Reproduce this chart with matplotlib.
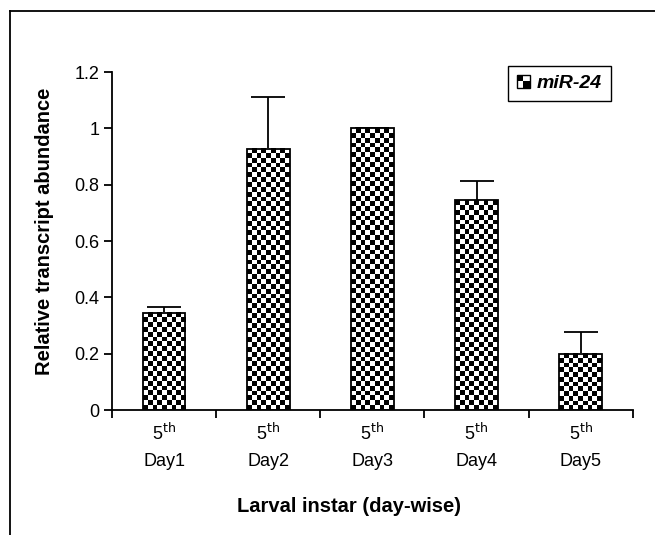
import numpy as np
import matplotlib
matplotlib.use('Agg')
from matplotlib import pyplot as plt
from matplotlib.patches import Rectangle
from matplotlib.lines import Line2D
from matplotlib.legend_handler import HandlerBase

plt.rcParams['font.family'] = ['Liberation Sans', 'DejaVu Sans']

days = ['Day1', 'Day2', 'Day3', 'Day4', 'Day5']
values = [0.345, 0.928, 1.0, 0.745, 0.199]
errors = [0.021, 0.185, 0.0, 0.068, 0.078]
yticks = [0, 0.2, 0.4, 0.6, 0.8, 1.0, 1.2]
ytick_labels = ['0', '0.2', '0.4', '0.6', '0.8', '1', '1.2']
series_name = 'miR-24'


class CheckerHandler(HandlerBase):
    # small 2x2 checker square for the legend
    def create_artists(self, legend, orig_handle, xdescent, ydescent,
                       width, height, fontsize, trans):
        s = height * 1.0
        x0 = -xdescent
        y0 = -ydescent
        h = s / 2
        return [
            Rectangle((x0, y0), s, s, fc='white', ec='black', lw=1, transform=trans),
            Rectangle((x0, y0 + h), h, h, fc='black', ec='none', transform=trans),
            Rectangle((x0 + h, y0), h, h, fc='black', ec='none', transform=trans),
        ]


fig = plt.figure(figsize=(6.55, 5.35), dpi=100)
ax = fig.add_axes([0.171, 0.2336, 0.795, 0.6318])

x = np.arange(len(days))
bar_w = 0.41
bars = ax.bar(x, values, width=bar_w, fill=False, edgecolor='black',
              linewidth=1.3, zorder=2)

# checkerboard fill for every bar
for rect in bars:
    x0 = rect.get_x()
    h = rect.get_height()
    ncols = 9
    nrows = max(1, int(round(h * 58)))
    board = (np.add.outer(np.arange(nrows), np.arange(ncols)) % 2)
    ax.imshow(board, cmap='gray', interpolation='nearest', origin='lower',
              extent=(x0, x0 + rect.get_width(), 0, h), aspect='auto',
              vmin=0, vmax=1, zorder=1)

# error bars sit behind the bars, so only the upper half shows
ax.errorbar(x, values, yerr=errors, fmt='none', ecolor='black',
            elinewidth=1.3, capsize=12, capthick=1.3, zorder=0.5)

ax.set_xlim(-0.5, len(days) - 0.5)
ax.set_ylim(0, 1.2)

for side in ['top', 'right']:
    ax.spines[side].set_visible(False)
ax.spines['left'].set_linewidth(1.3)
ax.spines['bottom'].set_linewidth(1.3)

ax.set_yticks(yticks)
ax.set_yticklabels(ytick_labels, fontsize=13)
ax.tick_params(axis='y', direction='out', length=6, width=1.3, pad=3)

ax.set_xticks(x)
ax.set_xticklabels(['5$^{\\mathrm{th}}$\n' + d for d in days], fontsize=13,
                   linespacing=1.7)
ax.tick_params(axis='x', which='major', length=0, pad=9)
ax.set_xticks(np.arange(len(days) + 1) - 0.5, minor=True)
ax.tick_params(axis='x', which='minor', direction='out', length=6, width=1.3)

ax.set_ylabel('Relative transcript abundance', fontsize=14.5,
              fontweight='bold', va='center')
ax.yaxis.set_label_coords(-0.129, 0.53)
ax.set_xlabel('Larval instar (day-wise)', fontsize=14.5, fontweight='bold',
              va='center')
ax.xaxis.set_label_coords(0.455, -0.284)

leg = ax.legend([Rectangle((0, 0), 1, 1)], [series_name],
                handler_map={Rectangle: CheckerHandler()},
                loc='upper right', bbox_to_anchor=(0.958, 1.018),
                borderaxespad=0, fancybox=False, edgecolor='black',
                handlelength=0.75, handletextpad=0.3, borderpad=0.45,
                prop={'size': 14, 'weight': 'bold', 'style': 'italic'})
leg.get_frame().set_linewidth(1.0)
leg.get_frame().set_alpha(1)

# outer frame lines (left and top)
fx = 9.5 / 655
fy = 1 - 11 / 535
fig.add_artist(Line2D([fx, fx], [0, fy], color='black', lw=1.3,
                      transform=fig.transFigure))
fig.add_artist(Line2D([fx, 1], [fy, fy], color='black', lw=1.3,
                      transform=fig.transFigure))

fig.savefig('out.png', dpi=100)
